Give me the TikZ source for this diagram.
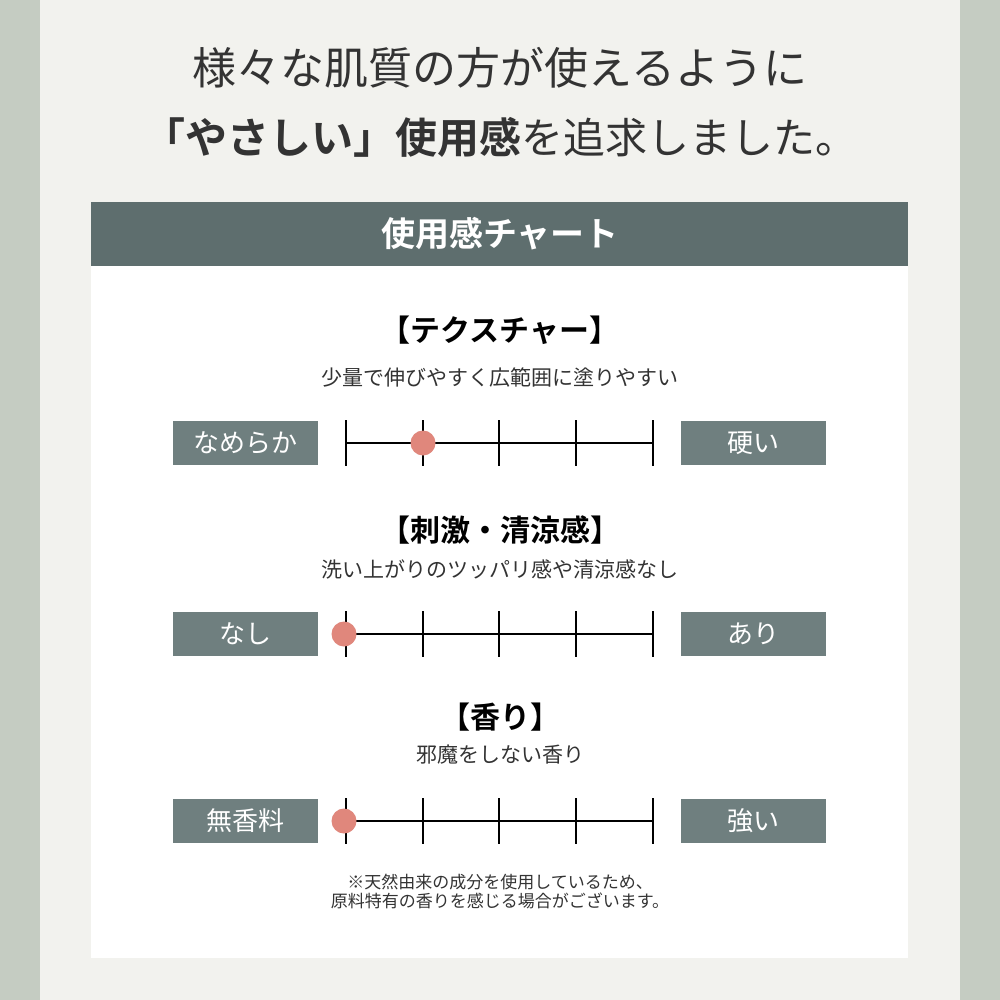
\documentclass[tikz,border=0pt]{standalone}
\usepackage{fontspec}
\newfontfamily\jp{Noto Sans CJK JP}[BoldFont={Noto Sans CJK JP Bold}]
\definecolor{side}{HTML}{C5CCC2}
\definecolor{bg}{HTML}{F2F2EE}
\definecolor{head}{HTML}{5E6E6E}
\definecolor{boxc}{HTML}{6F7F7F}
\definecolor{dot}{HTML}{E0877C}
\definecolor{txt}{HTML}{333333}
\tikzset{
  lab/.style={fill=boxc,text=white,minimum width=145pt,minimum height=44pt,inner sep=0pt,font=\jp\fontsize{26}{26}\selectfont},
  ttl/.style={font=\jp\bfseries\fontsize{30}{30}\selectfont,text=black},
  sub/.style={font=\jp\fontsize{21}{21}\selectfont,text=txt},
  tk/.style={line width=1.6pt,black},
  pt/.style={circle,fill=dot,minimum size=25pt,inner sep=0pt}
}
\begin{document}
\begin{tikzpicture}[x=1pt,y=-1pt]
\useasboundingbox (0,0) rectangle (1000,1000);
\fill[side] (0,0) rectangle (1000,1000);
\fill[bg] (40,0) rectangle (960,1000);
\node[font=\jp\fontsize{44}{44}\selectfont,text=txt] (t1) at (500,68) {様々な肌質の方が使えるように};
\node[font=\jp\fontsize{42}{42}\selectfont,text=txt] (t2) at (500,137) {\textbf{「やさしい」使用感}を追求しました。};
\fill[head] (91,202) rectangle (908,266);
\node[font=\jp\bfseries\fontsize{34}{34}\selectfont,text=white] (hd) at (500,234) {使用感チャート};
\fill[white] (91,266) rectangle (908,958);
\foreach \yt/\ys/\yc/\T/\S/\L/\R/\dx/\n in {
  330/378/443/【テクスチャー】/少量で伸びやすく広範囲に塗りやすい/なめらか/硬い/423/a,
  530/569/634/【刺激・清涼感】/洗い上がりのツッパリ感や清涼感なし/なし/あり/344/b,
  717/755/821/【香り】/邪魔をしない香り/無香料/強い/344/c}{
  \node[ttl] (tt\n) at (500,\yt) {\T};
  \node[sub] (ss\n) at (500,\ys) {\S};
  \node[lab] (l\n) at (245.5,\yc) {\L};
  \node[lab] (r\n) at (753.5,\yc) {\R};
  \coordinate (s\n) at (346,\yc);
  \coordinate (e\n) at (653,\yc);
  \draw[tk] (s\n) -- (e\n);
  \foreach \x in {346,423,499,576,653} \draw[tk] (\x,\yc-23) -- (\x,\yc+23);
  \node[pt] (d\n) at (\dx,\yc) {};
}
\node[font=\jp\fontsize{17}{17}\selectfont,text=txt,align=center] (note) at (500,891) {※天然由来の成分を使用しているため、\\[2pt]原料特有の香りを感じる場合がございます。};
\end{tikzpicture}
\end{document}
